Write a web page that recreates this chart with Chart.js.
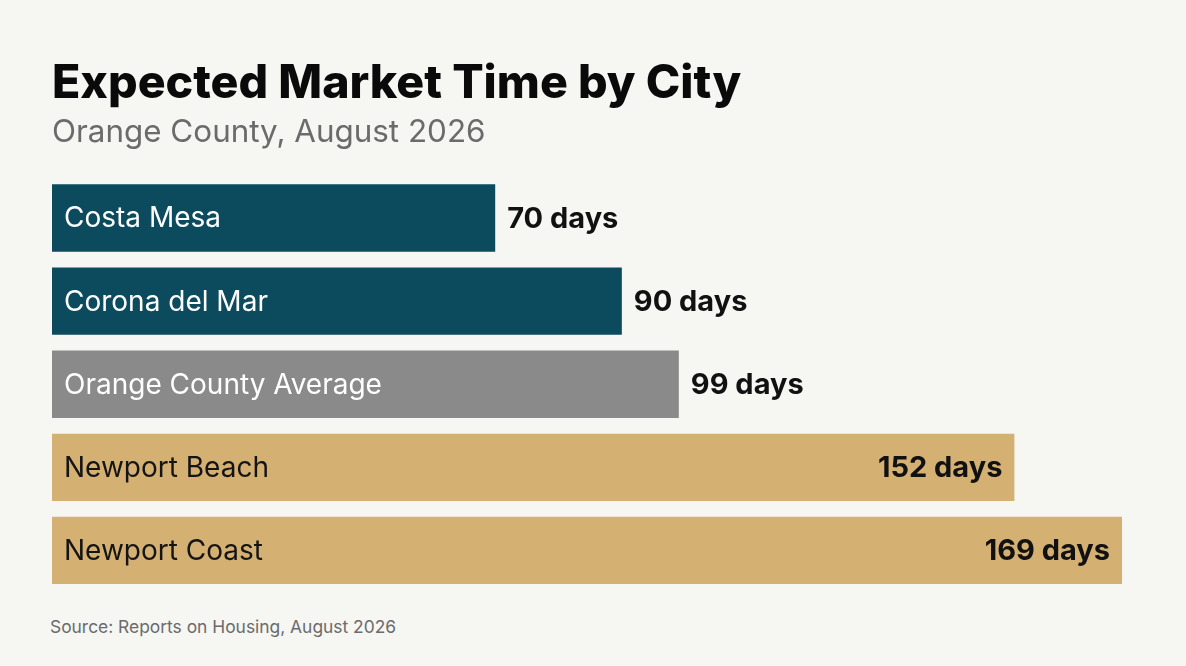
<!DOCTYPE html>
<html>
<head>
<meta charset="utf-8">
<script src="https://cdn.jsdelivr.net/npm/chart.js@4.4.1/dist/chart.umd.min.js"></script>
<style>
  html, body { margin: 0; padding: 0; background: #f6f6f3; }
  #wrap { position: relative; width: 1186px; height: 666px; }
  #source {
    position: absolute; left: 50px; top: 616px;
    font: 17.4px Inter, "Noto Sans", sans-serif; color: #6b6b6b;
  }
</style>
</head>
<body>
<div id="wrap">
  <canvas id="marketChart" width="1186" height="600"></canvas>
  <div id="source">Source: Reports on Housing, August 2026</div>
</div>
<script>
// data
const cities = ['Costa Mesa', 'Corona del Mar', 'Orange County Average', 'Newport Beach', 'Newport Coast'];
const daysOnMarket = [70, 90, 99, 152, 169];
const groups = ['city', 'city', 'average', 'coastal', 'coastal'];

const groupColors = { city: '#0c4a5e', average: '#8a8a8a', coastal: '#d4b073' };
const labelColors = { city: '#ffffff', average: '#ffffff', coastal: '#141414' };

// draws the city name inside each bar and the "n days" value
const barLabels = {
    id: 'barLabels',
    afterDatasetsDraw(chart) {
        const ctx = chart.ctx;
        const meta = chart.getDatasetMeta(0);
        ctx.save();
        ctx.textBaseline = 'middle';
        meta.data.forEach((bar, i) => {
            const g = groups[i];
            const left = bar.base;
            ctx.font = '28px Inter, "Noto Sans", sans-serif';
            ctx.fillStyle = labelColors[g];
            ctx.textAlign = 'left';
            ctx.fillText(cities[i], left + 12, bar.y + 1);

            ctx.font = 'bold 29px Inter, "Noto Sans", sans-serif';
            const text = daysOnMarket[i] + ' days';
            ctx.fillStyle = '#111111';
            if (g === 'coastal') {
                ctx.textAlign = 'right';
                ctx.fillText(text, bar.x - 12, bar.y + 1);
            } else {
                ctx.textAlign = 'left';
                ctx.fillText(text, bar.x + 12, bar.y + 1);
            }
        });
        ctx.restore();
    }
};

new Chart(document.getElementById('marketChart'), {
    type: 'bar',
    data: {
        labels: cities,
        datasets: [{
            data: daysOnMarket,
            backgroundColor: groups.map(g => groupColors[g]),
            borderWidth: 0,
            barPercentage: 0.81,
            categoryPercentage: 1.0
        }]
    },
    options: {
        indexAxis: 'y',
        responsive: false,
        animation: false,
        layout: { padding: { left: 52, right: 26, top: 56, bottom: 8 } },
        scales: {
            x: { display: false, min: 0, max: 175 },
            y: { display: false }
        },
        plugins: {
            legend: { display: false },
            tooltip: { enabled: false },
            title: {
                display: true,
                text: 'Expected Market Time by City',
                align: 'start',
                color: '#0a0a0a',
                font: { family: 'Inter', size: 46.5, weight: '800', lineHeight: 1.2 },
                padding: { top: 0, bottom: 2 }
            },
            subtitle: {
                display: true,
                text: 'Orange County, August 2026',
                align: 'start',
                color: '#6b6b6b',
                font: { family: 'Inter', size: 31.4, weight: '400', lineHeight: 1.2 },
                padding: { top: 0, bottom: 25 }
            }
        }
    },
    plugins: [barLabels]
});
</script>
</body>
</html>
